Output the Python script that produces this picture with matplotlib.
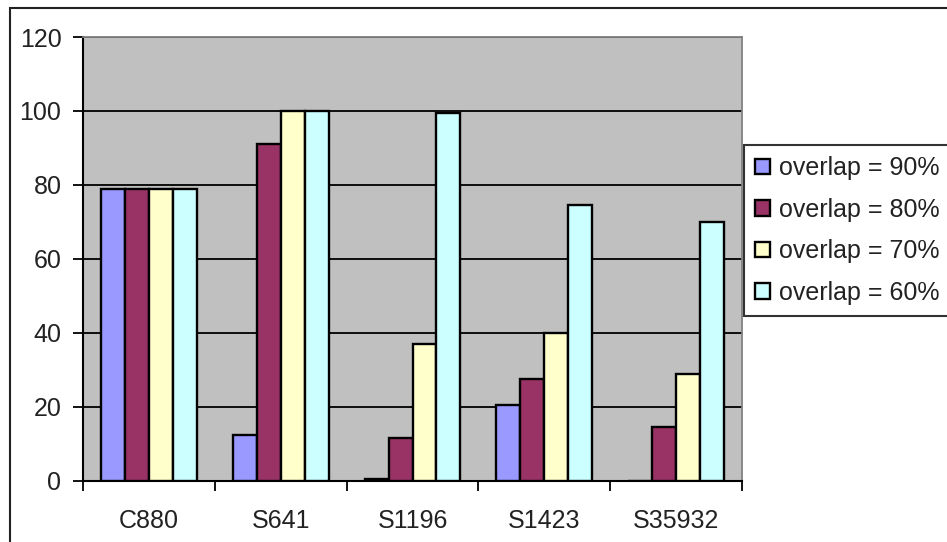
import numpy as np
import matplotlib.pyplot as plt
from matplotlib.patches import Rectangle

plt.rcParams['font.family'] = ['Liberation Sans', 'DejaVu Sans']

# data
categories = ['C880', 'S641', 'S1196', 'S1423', 'S35932']
series_names = ['overlap = 90%', 'overlap = 80%', 'overlap = 70%', 'overlap = 60%']
overlap_90 = [79, 12.5, 0.5, 20.5, 0]
overlap_80 = [79, 91, 11.5, 27.5, 14.5]
overlap_70 = [79, 100, 37, 40, 29]
overlap_60 = [79, 100, 99.5, 74.5, 70]
colors = ['#9999FF', '#993366', '#FFFFCC', '#CCFFFF']

W, H = 947, 542
fig = plt.figure(figsize=(W / 100, H / 100), dpi=100)
ax = fig.add_axes([83 / W, (H - 481) / H, (742 - 83) / W, (481 - 37) / H])
ax.set_facecolor('#C0C0C0')

x = np.arange(len(categories))
bw = 1 / 5.5
all_series = [overlap_90, overlap_80, overlap_70, overlap_60]
handles = []
for i, vals in enumerate(all_series):
    b = ax.bar(x + (i - 1.5) * bw, vals, width=bw, color=colors[i],
               edgecolor='black', linewidth=1.7, label=series_names[i], zorder=3)
    handles.append(b)

ax.set_xlim(-0.5, len(categories) - 0.5)
ax.set_ylim(0, 120)
ax.set_yticks(np.arange(0, 121, 20))
ax.yaxis.grid(True, color='black', linewidth=1.3, zorder=1)
ax.set_axisbelow(True)

ax.set_xticks(x)
ax.set_xticklabels(categories)
ax.set_xticks(np.arange(-0.5, len(categories)), minor=True)
ax.tick_params(axis='x', which='major', length=0, pad=20, labelsize=18, colors='#222222')
ax.tick_params(axis='x', which='minor', length=7, width=1.3, direction='out', color='black')
ax.tick_params(axis='y', length=7, width=1.3, direction='out', pad=8.5, labelsize=18,
               colors='#222222')
ax.tick_params(axis='y', color='black')

for side in ['top', 'right']:
    ax.spines[side].set_color('#808080')
    ax.spines[side].set_linewidth(1.3)
for side in ['left', 'bottom']:
    ax.spines[side].set_color('black')
    ax.spines[side].set_linewidth(1.5)

leg = fig.legend(handles=handles, loc='upper left',
                 bbox_to_anchor=(744 / W, 1 - 145 / H), bbox_transform=fig.transFigure,
                 fontsize=18, frameon=True, fancybox=False, edgecolor='black',
                 borderpad=0.45, borderaxespad=0, handlelength=0.6, handleheight=0.6,
                 handletextpad=0.35, labelspacing=0.7)
leg.get_frame().set_linewidth(1.5)
for t in leg.get_texts():
    t.set_color('#222222')

# outer chart border
fig.patches.append(Rectangle((10 / W, -0.1), 1.2, 1 - 8 / H + 0.1,
                             transform=fig.transFigure, fill=False,
                             edgecolor='#222222', linewidth=1.5))

fig.savefig('out.png', dpi=100)
